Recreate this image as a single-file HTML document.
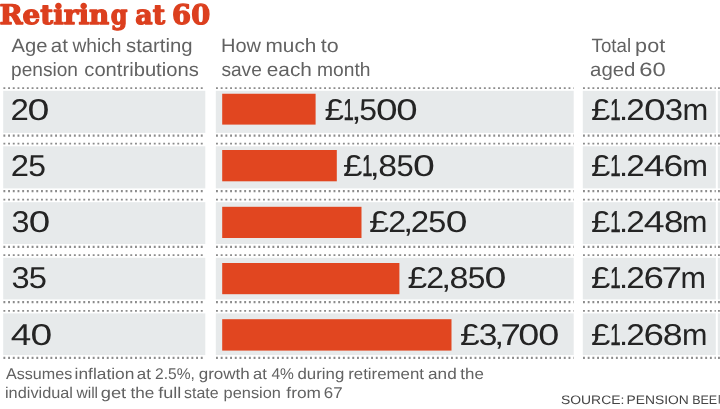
<!DOCTYPE html>
<html lang="en"><head><meta charset="utf-8"><title>Retiring at 60</title>
<style>html,body{margin:0;padding:0;background:#fff}body{width:720px;height:409px;overflow:hidden}svg{display:block;text-rendering:geometricPrecision}</style></head><body>
<svg width="720" height="409" viewBox="0 0 720 409">
<rect width="720" height="409" fill="#ffffff"/>
<rect x="3.2" y="90.80" width="202.10" height="42.10" fill="#e7eaeb"/>
<rect x="215.8" y="90.80" width="357.90" height="42.10" fill="#e7eaeb"/>
<rect x="582.8" y="90.80" width="133.00" height="42.10" fill="#e7eaeb"/>
<rect x="717.8" y="90.80" width="4.20" height="42.10" fill="#e7eaeb"/>
<line x1="3.40" y1="88.20" x2="205.30" y2="88.20" stroke="#8c8c8c" stroke-width="1.8" stroke-dasharray="1.9 2.8"/>
<line x1="3.40" y1="135.70" x2="205.30" y2="135.70" stroke="#8c8c8c" stroke-width="2.2" stroke-dasharray="1.9 2.8"/>
<line x1="216.00" y1="88.20" x2="573.70" y2="88.20" stroke="#8c8c8c" stroke-width="1.8" stroke-dasharray="1.9 2.8"/>
<line x1="216.00" y1="135.70" x2="573.70" y2="135.70" stroke="#8c8c8c" stroke-width="2.2" stroke-dasharray="1.9 2.8"/>
<line x1="583.00" y1="88.20" x2="715.80" y2="88.20" stroke="#8c8c8c" stroke-width="1.8" stroke-dasharray="1.9 2.8"/>
<line x1="583.00" y1="135.70" x2="715.80" y2="135.70" stroke="#8c8c8c" stroke-width="2.2" stroke-dasharray="1.9 2.8"/>
<line x1="718.00" y1="88.20" x2="722.00" y2="88.20" stroke="#8c8c8c" stroke-width="1.8" stroke-dasharray="1.9 2.8"/>
<line x1="718.00" y1="135.70" x2="722.00" y2="135.70" stroke="#8c8c8c" stroke-width="2.2" stroke-dasharray="1.9 2.8"/>
<rect x="3.2" y="146.30" width="202.10" height="42.10" fill="#e7eaeb"/>
<rect x="215.8" y="146.30" width="357.90" height="42.10" fill="#e7eaeb"/>
<rect x="582.8" y="146.30" width="133.00" height="42.10" fill="#e7eaeb"/>
<rect x="717.8" y="146.30" width="4.20" height="42.10" fill="#e7eaeb"/>
<line x1="3.40" y1="143.70" x2="205.30" y2="143.70" stroke="#8c8c8c" stroke-width="1.8" stroke-dasharray="1.9 2.8"/>
<line x1="3.40" y1="191.20" x2="205.30" y2="191.20" stroke="#8c8c8c" stroke-width="2.2" stroke-dasharray="1.9 2.8"/>
<line x1="216.00" y1="143.70" x2="573.70" y2="143.70" stroke="#8c8c8c" stroke-width="1.8" stroke-dasharray="1.9 2.8"/>
<line x1="216.00" y1="191.20" x2="573.70" y2="191.20" stroke="#8c8c8c" stroke-width="2.2" stroke-dasharray="1.9 2.8"/>
<line x1="583.00" y1="143.70" x2="715.80" y2="143.70" stroke="#8c8c8c" stroke-width="1.8" stroke-dasharray="1.9 2.8"/>
<line x1="583.00" y1="191.20" x2="715.80" y2="191.20" stroke="#8c8c8c" stroke-width="2.2" stroke-dasharray="1.9 2.8"/>
<line x1="718.00" y1="143.70" x2="722.00" y2="143.70" stroke="#8c8c8c" stroke-width="1.8" stroke-dasharray="1.9 2.8"/>
<line x1="718.00" y1="191.20" x2="722.00" y2="191.20" stroke="#8c8c8c" stroke-width="2.2" stroke-dasharray="1.9 2.8"/>
<rect x="3.2" y="202.20" width="202.10" height="41.80" fill="#e7eaeb"/>
<rect x="215.8" y="202.20" width="357.90" height="41.80" fill="#e7eaeb"/>
<rect x="582.8" y="202.20" width="133.00" height="41.80" fill="#e7eaeb"/>
<rect x="717.8" y="202.20" width="4.20" height="41.80" fill="#e7eaeb"/>
<line x1="3.40" y1="199.60" x2="205.30" y2="199.60" stroke="#8c8c8c" stroke-width="1.8" stroke-dasharray="1.9 2.8"/>
<line x1="3.40" y1="246.80" x2="205.30" y2="246.80" stroke="#8c8c8c" stroke-width="2.2" stroke-dasharray="1.9 2.8"/>
<line x1="216.00" y1="199.60" x2="573.70" y2="199.60" stroke="#8c8c8c" stroke-width="1.8" stroke-dasharray="1.9 2.8"/>
<line x1="216.00" y1="246.80" x2="573.70" y2="246.80" stroke="#8c8c8c" stroke-width="2.2" stroke-dasharray="1.9 2.8"/>
<line x1="583.00" y1="199.60" x2="715.80" y2="199.60" stroke="#8c8c8c" stroke-width="1.8" stroke-dasharray="1.9 2.8"/>
<line x1="583.00" y1="246.80" x2="715.80" y2="246.80" stroke="#8c8c8c" stroke-width="2.2" stroke-dasharray="1.9 2.8"/>
<line x1="718.00" y1="199.60" x2="722.00" y2="199.60" stroke="#8c8c8c" stroke-width="1.8" stroke-dasharray="1.9 2.8"/>
<line x1="718.00" y1="246.80" x2="722.00" y2="246.80" stroke="#8c8c8c" stroke-width="2.2" stroke-dasharray="1.9 2.8"/>
<rect x="3.2" y="257.80" width="202.10" height="41.60" fill="#e7eaeb"/>
<rect x="215.8" y="257.80" width="357.90" height="41.60" fill="#e7eaeb"/>
<rect x="582.8" y="257.80" width="133.00" height="41.60" fill="#e7eaeb"/>
<rect x="717.8" y="257.80" width="4.20" height="41.60" fill="#e7eaeb"/>
<line x1="3.40" y1="255.20" x2="205.30" y2="255.20" stroke="#8c8c8c" stroke-width="1.8" stroke-dasharray="1.9 2.8"/>
<line x1="3.40" y1="302.20" x2="205.30" y2="302.20" stroke="#8c8c8c" stroke-width="2.2" stroke-dasharray="1.9 2.8"/>
<line x1="216.00" y1="255.20" x2="573.70" y2="255.20" stroke="#8c8c8c" stroke-width="1.8" stroke-dasharray="1.9 2.8"/>
<line x1="216.00" y1="302.20" x2="573.70" y2="302.20" stroke="#8c8c8c" stroke-width="2.2" stroke-dasharray="1.9 2.8"/>
<line x1="583.00" y1="255.20" x2="715.80" y2="255.20" stroke="#8c8c8c" stroke-width="1.8" stroke-dasharray="1.9 2.8"/>
<line x1="583.00" y1="302.20" x2="715.80" y2="302.20" stroke="#8c8c8c" stroke-width="2.2" stroke-dasharray="1.9 2.8"/>
<line x1="718.00" y1="255.20" x2="722.00" y2="255.20" stroke="#8c8c8c" stroke-width="1.8" stroke-dasharray="1.9 2.8"/>
<line x1="718.00" y1="302.20" x2="722.00" y2="302.20" stroke="#8c8c8c" stroke-width="2.2" stroke-dasharray="1.9 2.8"/>
<rect x="3.2" y="313.40" width="202.10" height="41.70" fill="#e7eaeb"/>
<rect x="215.8" y="313.40" width="357.90" height="41.70" fill="#e7eaeb"/>
<rect x="582.8" y="313.40" width="133.00" height="41.70" fill="#e7eaeb"/>
<rect x="717.8" y="313.40" width="4.20" height="41.70" fill="#e7eaeb"/>
<line x1="3.40" y1="310.80" x2="205.30" y2="310.80" stroke="#8c8c8c" stroke-width="1.8" stroke-dasharray="1.9 2.8"/>
<line x1="3.40" y1="357.90" x2="205.30" y2="357.90" stroke="#8c8c8c" stroke-width="2.2" stroke-dasharray="1.9 2.8"/>
<line x1="216.00" y1="310.80" x2="573.70" y2="310.80" stroke="#8c8c8c" stroke-width="1.8" stroke-dasharray="1.9 2.8"/>
<line x1="216.00" y1="357.90" x2="573.70" y2="357.90" stroke="#8c8c8c" stroke-width="2.2" stroke-dasharray="1.9 2.8"/>
<line x1="583.00" y1="310.80" x2="715.80" y2="310.80" stroke="#8c8c8c" stroke-width="1.8" stroke-dasharray="1.9 2.8"/>
<line x1="583.00" y1="357.90" x2="715.80" y2="357.90" stroke="#8c8c8c" stroke-width="2.2" stroke-dasharray="1.9 2.8"/>
<line x1="718.00" y1="310.80" x2="722.00" y2="310.80" stroke="#8c8c8c" stroke-width="1.8" stroke-dasharray="1.9 2.8"/>
<line x1="718.00" y1="357.90" x2="722.00" y2="357.90" stroke="#8c8c8c" stroke-width="2.2" stroke-dasharray="1.9 2.8"/>
<rect x="222.2" y="93.75" width="93.40" height="30.85" fill="#e14620"/>
<rect x="222.2" y="150" width="114.60" height="31.30" fill="#e14620"/>
<rect x="222.2" y="206.8" width="139.30" height="31.20" fill="#e14620"/>
<rect x="222.2" y="263" width="177.20" height="31.20" fill="#e14620"/>
<rect x="222.2" y="319.2" width="229.30" height="31.40" fill="#e14620"/>
<text y="24" font-family="'DejaVu Serif', 'Liberation Serif', serif" font-weight="bold" font-size="27.0" fill="#dc3f1e" stroke="#dc3f1e" stroke-width="1.3" stroke-linejoin="round"><tspan x="-0.57" textLength="109.76" lengthAdjust="spacingAndGlyphs">Retirin</tspan><tspan x="110.79" textLength="16.73" lengthAdjust="spacingAndGlyphs">g</tspan> <tspan x="135.28" textLength="29.77" lengthAdjust="spacingAndGlyphs">at</tspan> <tspan x="172.14" textLength="38.03" lengthAdjust="spacingAndGlyphs">60</tspan></text>
<text y="52" font-family="'Liberation Sans', Arial, sans-serif" font-size="19.2" fill="#626262"><tspan x="11.62" textLength="35.92" lengthAdjust="spacingAndGlyphs">Age</tspan> <tspan x="50.76" textLength="17.09" lengthAdjust="spacingAndGlyphs">at</tspan> <tspan x="72.42" textLength="49.00" lengthAdjust="spacingAndGlyphs">which</tspan> <tspan x="126.02" textLength="66.59" lengthAdjust="spacingAndGlyphs">starting</tspan></text>
<text y="76" font-family="'Liberation Sans', Arial, sans-serif" font-size="19.2" fill="#626262"><tspan x="11.08" textLength="66.91" lengthAdjust="spacingAndGlyphs">pension</tspan> <tspan x="84.31" textLength="114.46" lengthAdjust="spacingAndGlyphs">contributions</tspan></text>
<text y="52" font-family="'Liberation Sans', Arial, sans-serif" font-size="19.2" fill="#626262"><tspan x="221.05" textLength="40.00" lengthAdjust="spacingAndGlyphs">How</tspan> <tspan x="265.57" textLength="50.82" lengthAdjust="spacingAndGlyphs">much</tspan> <tspan x="320.86" textLength="17.89" lengthAdjust="spacingAndGlyphs">to</tspan></text>
<text y="76" font-family="'Liberation Sans', Arial, sans-serif" font-size="19.2" fill="#626262"><tspan x="221.40" textLength="40.45" lengthAdjust="spacingAndGlyphs">save</tspan> <tspan x="266.80" textLength="45.11" lengthAdjust="spacingAndGlyphs">each</tspan> <tspan x="316.96" textLength="53.49" lengthAdjust="spacingAndGlyphs">month</tspan></text>
<text y="52" font-family="'Liberation Sans', Arial, sans-serif" font-size="19.2" fill="#626262"><tspan x="591.58" textLength="39.50" lengthAdjust="spacingAndGlyphs">Total</tspan> <tspan x="635.14" textLength="30.04" lengthAdjust="spacingAndGlyphs">pot</tspan></text>
<text y="76" font-family="'Liberation Sans', Arial, sans-serif" font-size="19.2" fill="#626262"><tspan x="590.08" textLength="45.38" lengthAdjust="spacingAndGlyphs">aged</tspan> <tspan x="639.20" textLength="26.48" lengthAdjust="spacingAndGlyphs">60</tspan></text>
<text y="379" font-family="'Liberation Sans', Arial, sans-serif" font-size="15.5" fill="#626262"><tspan x="5.92" textLength="66.32" lengthAdjust="spacingAndGlyphs">Assumes</tspan> <tspan x="74.58" textLength="59.76" lengthAdjust="spacingAndGlyphs">inflation</tspan> <tspan x="136.73" textLength="14.13" lengthAdjust="spacingAndGlyphs">at</tspan> <tspan x="154.98" textLength="39.88" lengthAdjust="spacingAndGlyphs">2.5%,</tspan> <tspan x="198.69" textLength="51.02" lengthAdjust="spacingAndGlyphs">growth</tspan> <tspan x="253.04" textLength="13.79" lengthAdjust="spacingAndGlyphs">at</tspan> <tspan x="271.47" textLength="22.44" lengthAdjust="spacingAndGlyphs">4%</tspan> <tspan x="297.52" textLength="46.74" lengthAdjust="spacingAndGlyphs">during</tspan> <tspan x="348.21" textLength="75.79" lengthAdjust="spacingAndGlyphs">retirement</tspan> <tspan x="428.08" textLength="28.65" lengthAdjust="spacingAndGlyphs">and</tspan> <tspan x="460.35" textLength="23.48" lengthAdjust="spacingAndGlyphs">the</tspan></text>
<text y="398" font-family="'Liberation Sans', Arial, sans-serif" font-size="15.5" fill="#626262"><tspan x="5.01" textLength="67.99" lengthAdjust="spacingAndGlyphs">individual</tspan> <tspan x="76.44" textLength="21.64" lengthAdjust="spacingAndGlyphs">will</tspan> <tspan x="100.73" textLength="25.52" lengthAdjust="spacingAndGlyphs">get</tspan> <tspan x="130.54" textLength="23.83" lengthAdjust="spacingAndGlyphs">the</tspan> <tspan x="158.21" textLength="23.12" lengthAdjust="spacingAndGlyphs">full</tspan> <tspan x="184.08" textLength="34.49" lengthAdjust="spacingAndGlyphs">state</tspan> <tspan x="223.61" textLength="57.34" lengthAdjust="spacingAndGlyphs">pension</tspan> <tspan x="286.37" textLength="34.58" lengthAdjust="spacingAndGlyphs">from</tspan> <tspan x="323.79" textLength="18.78" lengthAdjust="spacingAndGlyphs">67</tspan></text>
<text y="404" font-family="'Liberation Sans', Arial, sans-serif" font-size="12.3" fill="#444444"><tspan x="561.00" textLength="63.30" lengthAdjust="spacingAndGlyphs">SOURCE:</tspan> <tspan x="626.55" textLength="62.30" lengthAdjust="spacingAndGlyphs">PENSION</tspan> <tspan x="692.16" textLength="24.99" lengthAdjust="spacingAndGlyphs">BEE</tspan></text>
<text y="120" font-family="'Liberation Sans', Arial, sans-serif" font-size="30" fill="#242424"><tspan x="10.61" textLength="18.35" lengthAdjust="spacingAndGlyphs">2</tspan><tspan x="27.60" textLength="21.92" lengthAdjust="spacingAndGlyphs">0</tspan></text>
<text y="176" font-family="'Liberation Sans', Arial, sans-serif" font-size="30" fill="#242424"><tspan x="10.70" textLength="18.23" lengthAdjust="spacingAndGlyphs">2</tspan><tspan x="28.34" textLength="17.73" lengthAdjust="spacingAndGlyphs">5</tspan></text>
<text y="232" font-family="'Liberation Sans', Arial, sans-serif" font-size="30" fill="#242424"><tspan x="11.44" textLength="18.00" lengthAdjust="spacingAndGlyphs">3</tspan><tspan x="28.79" textLength="21.48" lengthAdjust="spacingAndGlyphs">0</tspan></text>
<text y="288" font-family="'Liberation Sans', Arial, sans-serif" font-size="30" fill="#242424"><tspan x="11.41" textLength="18.13" lengthAdjust="spacingAndGlyphs">3</tspan><tspan x="28.74" textLength="18.19" lengthAdjust="spacingAndGlyphs">5</tspan></text>
<text y="345" font-family="'Liberation Sans', Arial, sans-serif" font-size="30" fill="#242424"><tspan x="10.86" textLength="20.53" lengthAdjust="spacingAndGlyphs">4</tspan><tspan x="30.59" textLength="21.76" lengthAdjust="spacingAndGlyphs">0</tspan></text>
<text y="120" font-family="'Liberation Sans', Arial, sans-serif" font-size="30" fill="#242424"><tspan x="324.40" textLength="19.52" lengthAdjust="spacingAndGlyphs">£</tspan><tspan stroke="#242424" stroke-width="0.6" x="343.51" textLength="10.31" lengthAdjust="spacingAndGlyphs">1</tspan><tspan x="351.37" textLength="10.21" lengthAdjust="spacingAndGlyphs">,</tspan><tspan x="359.34" textLength="17.73" lengthAdjust="spacingAndGlyphs">5</tspan><tspan x="376.11" textLength="21.61" lengthAdjust="spacingAndGlyphs">0</tspan><tspan x="396.36" textLength="21.39" lengthAdjust="spacingAndGlyphs">0</tspan></text>
<text y="176" font-family="'Liberation Sans', Arial, sans-serif" font-size="30" fill="#242424"><tspan x="342.98" textLength="19.50" lengthAdjust="spacingAndGlyphs">£</tspan><tspan stroke="#242424" stroke-width="0.6" x="362.20" textLength="10.12" lengthAdjust="spacingAndGlyphs">1</tspan><tspan x="369.78" textLength="9.92" lengthAdjust="spacingAndGlyphs">,</tspan><tspan x="378.20" textLength="18.77" lengthAdjust="spacingAndGlyphs">8</tspan><tspan x="396.44" textLength="17.24" lengthAdjust="spacingAndGlyphs">5</tspan><tspan x="413.13" textLength="21.85" lengthAdjust="spacingAndGlyphs">0</tspan></text>
<text y="232" font-family="'Liberation Sans', Arial, sans-serif" font-size="30" fill="#242424"><tspan x="368.98" textLength="20.18" lengthAdjust="spacingAndGlyphs">£</tspan><tspan x="388.38" textLength="17.89" lengthAdjust="spacingAndGlyphs">2</tspan><tspan x="403.30" textLength="9.85" lengthAdjust="spacingAndGlyphs">,</tspan><tspan x="410.67" textLength="18.35" lengthAdjust="spacingAndGlyphs">2</tspan><tspan x="428.36" textLength="18.02" lengthAdjust="spacingAndGlyphs">5</tspan><tspan x="445.75" textLength="21.71" lengthAdjust="spacingAndGlyphs">0</tspan></text>
<text y="288" font-family="'Liberation Sans', Arial, sans-serif" font-size="30" fill="#242424"><tspan x="407.49" textLength="19.73" lengthAdjust="spacingAndGlyphs">£</tspan><tspan x="426.38" textLength="17.89" lengthAdjust="spacingAndGlyphs">2</tspan><tspan x="441.30" textLength="9.85" lengthAdjust="spacingAndGlyphs">,</tspan><tspan x="449.64" textLength="18.94" lengthAdjust="spacingAndGlyphs">8</tspan><tspan x="467.67" textLength="17.60" lengthAdjust="spacingAndGlyphs">5</tspan><tspan x="484.55" textLength="21.88" lengthAdjust="spacingAndGlyphs">0</tspan></text>
<text y="345" font-family="'Liberation Sans', Arial, sans-serif" font-size="30" fill="#242424"><tspan x="459.91" textLength="19.72" lengthAdjust="spacingAndGlyphs">£</tspan><tspan x="478.87" textLength="18.70" lengthAdjust="spacingAndGlyphs">3</tspan><tspan x="494.30" textLength="9.85" lengthAdjust="spacingAndGlyphs">,</tspan><tspan x="500.58" textLength="20.32" lengthAdjust="spacingAndGlyphs">7</tspan><tspan x="518.23" textLength="21.05" lengthAdjust="spacingAndGlyphs">0</tspan><tspan x="538.23" textLength="21.05" lengthAdjust="spacingAndGlyphs">0</tspan></text>
<text y="120" font-family="'Liberation Sans', Arial, sans-serif" font-size="30" fill="#242424"><tspan x="590.99" textLength="19.39" lengthAdjust="spacingAndGlyphs">£</tspan><tspan stroke="#242424" stroke-width="0.6" x="610.33" textLength="10.48" lengthAdjust="spacingAndGlyphs">1</tspan><tspan x="618.90" textLength="9.12" lengthAdjust="spacingAndGlyphs">.</tspan><tspan x="626.31" textLength="18.52" lengthAdjust="spacingAndGlyphs">2</tspan><tspan x="644.04" textLength="21.77" lengthAdjust="spacingAndGlyphs">0</tspan><tspan x="664.84" textLength="18.37" lengthAdjust="spacingAndGlyphs">3</tspan><tspan x="682.49" textLength="25.76" lengthAdjust="spacingAndGlyphs">m</tspan></text>
<text y="176" font-family="'Liberation Sans', Arial, sans-serif" font-size="30" fill="#242424"><tspan x="590.99" textLength="19.39" lengthAdjust="spacingAndGlyphs">£</tspan><tspan stroke="#242424" stroke-width="0.6" x="610.33" textLength="10.48" lengthAdjust="spacingAndGlyphs">1</tspan><tspan x="618.90" textLength="9.12" lengthAdjust="spacingAndGlyphs">.</tspan><tspan x="626.31" textLength="18.52" lengthAdjust="spacingAndGlyphs">2</tspan><tspan x="643.71" textLength="20.88" lengthAdjust="spacingAndGlyphs">4</tspan><tspan x="663.62" textLength="19.70" lengthAdjust="spacingAndGlyphs">6</tspan><tspan x="682.29" textLength="25.69" lengthAdjust="spacingAndGlyphs">m</tspan></text>
<text y="232" font-family="'Liberation Sans', Arial, sans-serif" font-size="30" fill="#242424"><tspan x="590.99" textLength="19.39" lengthAdjust="spacingAndGlyphs">£</tspan><tspan stroke="#242424" stroke-width="0.6" x="610.33" textLength="10.48" lengthAdjust="spacingAndGlyphs">1</tspan><tspan x="618.90" textLength="9.12" lengthAdjust="spacingAndGlyphs">.</tspan><tspan x="626.31" textLength="18.52" lengthAdjust="spacingAndGlyphs">2</tspan><tspan x="643.71" textLength="20.88" lengthAdjust="spacingAndGlyphs">4</tspan><tspan x="663.92" textLength="19.40" lengthAdjust="spacingAndGlyphs">8</tspan><tspan x="682.09" textLength="25.44" lengthAdjust="spacingAndGlyphs">m</tspan></text>
<text y="288" font-family="'Liberation Sans', Arial, sans-serif" font-size="30" fill="#242424"><tspan x="590.99" textLength="19.39" lengthAdjust="spacingAndGlyphs">£</tspan><tspan stroke="#242424" stroke-width="0.6" x="610.33" textLength="10.48" lengthAdjust="spacingAndGlyphs">1</tspan><tspan x="618.90" textLength="9.12" lengthAdjust="spacingAndGlyphs">.</tspan><tspan x="626.31" textLength="18.52" lengthAdjust="spacingAndGlyphs">2</tspan><tspan x="643.48" textLength="20.41" lengthAdjust="spacingAndGlyphs">6</tspan><tspan x="661.57" textLength="20.57" lengthAdjust="spacingAndGlyphs">7</tspan><tspan x="680.45" textLength="25.45" lengthAdjust="spacingAndGlyphs">m</tspan></text>
<text y="345" font-family="'Liberation Sans', Arial, sans-serif" font-size="30" fill="#242424"><tspan x="590.99" textLength="19.39" lengthAdjust="spacingAndGlyphs">£</tspan><tspan stroke="#242424" stroke-width="0.6" x="610.33" textLength="10.48" lengthAdjust="spacingAndGlyphs">1</tspan><tspan x="618.90" textLength="9.12" lengthAdjust="spacingAndGlyphs">.</tspan><tspan x="626.31" textLength="18.52" lengthAdjust="spacingAndGlyphs">2</tspan><tspan x="643.48" textLength="20.41" lengthAdjust="spacingAndGlyphs">6</tspan><tspan x="662.88" textLength="19.84" lengthAdjust="spacingAndGlyphs">8</tspan><tspan x="682.09" textLength="25.44" lengthAdjust="spacingAndGlyphs">m</tspan></text>
<rect x="718.7" y="395" width="1.5" height="8.6" fill="#6a6a6a"/>
</svg></body></html>
